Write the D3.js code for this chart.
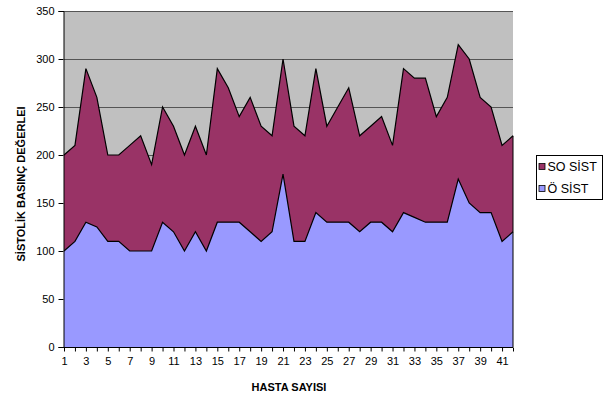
<!DOCTYPE html>
<html>
<head>
<meta charset="utf-8">
<script src="https://cdn.jsdelivr.net/npm/d3@7/dist/d3.min.js"></script>
<style>
  html, body { margin: 0; padding: 0; background: #ffffff; }
  svg { display: block; font-family: "Liberation Sans", Arial, sans-serif; }
</style>
</head>
<body>
<svg id="chart" width="607" height="398"></svg>
<script>
// Patient numbers 1..42
const patients = d3.range(1, 43);
// Systolic pressure after (SO SİST)
const soSist = [200, 210, 290, 260, 200, 200, 210, 220, 190, 250,
                230, 200, 230, 200, 290, 270, 240, 260, 230, 220,
                300, 230, 220, 290, 230, 250, 270, 220, 230, 240,
                210, 290, 280, 280, 240, 260, 315, 300, 260, 250,
                210, 220];
// Systolic pressure before (Ö SİST)
const oSist = [100, 110, 130, 125, 110, 110, 100, 100, 100, 130,
               120, 100, 120, 100, 130, 130, 130, 120, 110, 120,
               180, 110, 110, 140, 130, 130, 130, 120, 130, 130,
               120, 140, 135, 130, 130, 130, 175, 150, 140, 140,
               110, 120];
const yTicks = [0, 50, 100, 150, 200, 250, 300, 350];
const xTickLabels = patients.filter(d => d % 2 === 1);

const seriesNames = ["SO SİST", "Ö SİST"];
const seriesColors = ["#993366", "#9999FF"];

const svg = d3.select("#chart");
const plotL = 64, plotR = 513, plotT = 11, plotB = 347;

const x = d3.scaleLinear().domain([1, 42]).range([plotL, plotR]);
const y = d3.scaleLinear().domain([0, 350]).range([plotB, plotT]);

// plot background
svg.append("rect")
  .attr("x", plotL).attr("y", plotT)
  .attr("width", plotR - plotL).attr("height", plotB - plotT)
  .attr("fill", "#C0C0C0");

// horizontal gridlines
svg.append("g").selectAll("line")
  .data(yTicks.filter(t => t > 0))
  .join("line")
  .attr("x1", plotL).attr("x2", plotR)
  .attr("y1", d => Math.round(y(d)) + 0.5).attr("y2", d => Math.round(y(d)) + 0.5)
  .attr("stroke", "#555555").attr("stroke-width", 1);

const area = vals => d3.area()
  .x((d, i) => x(patients[i]))
  .y0(y(0))
  .y1(d => y(d))(vals);

const line = vals => d3.line()
  .x((d, i) => x(patients[i]))
  .y(d => y(d))(vals);

[soSist, oSist].forEach((vals, k) => {
  svg.append("path")
    .attr("d", area(vals))
    .attr("fill", seriesColors[k]);
  svg.append("path")
    .attr("d", line(vals))
    .attr("fill", "none")
    .attr("stroke", "#000")
    .attr("stroke-width", 1.2)
    .attr("stroke-linejoin", "miter");
});

// right edge of the areas
svg.append("line")
  .attr("x1", plotR).attr("x2", plotR)
  .attr("y1", y(soSist[41])).attr("y2", plotB)
  .attr("stroke", "#000").attr("stroke-width", 1);

// Y axis
const yAxis = d3.axisLeft(y).tickValues(yTicks).tickSize(5).tickPadding(4);
const gy = svg.append("g").attr("transform", `translate(${plotL - 0.5},0)`).call(yAxis);
gy.select(".domain").attr("stroke", "#000");
gy.selectAll(".tick line").attr("stroke", "#000");
gy.selectAll("text").attr("font-size", 11).attr("fill", "#000")
  .attr("font-family", "Liberation Sans, Arial, sans-serif");

// X axis
const xAxis = d3.axisBottom(x).tickValues(patients).tickSize(4).tickPadding(6)
  .tickFormat(d => xTickLabels.includes(d) ? d : "");
const gx = svg.append("g").attr("transform", `translate(0,${plotB + 0.5})`).call(xAxis);
gx.select(".domain").attr("stroke", "#000").attr("d", `M${plotL - 0.5},0H${plotR}`);
gx.selectAll(".tick line").attr("stroke", "#000");
gx.selectAll("text").attr("font-size", 11).attr("fill", "#000")
  .attr("font-family", "Liberation Sans, Arial, sans-serif");

// axis titles
svg.append("text")
  .attr("x", 289).attr("y", 391)
  .attr("text-anchor", "middle")
  .attr("font-size", 11).attr("font-weight", "bold")
  .text("HASTA SAYISI");

svg.append("text")
  .attr("transform", "translate(25,184) rotate(-90)")
  .attr("text-anchor", "middle")
  .attr("font-size", 11).attr("font-weight", "bold")
  .text("SİSTOLİK BASINÇ DEĞERLEI");

// legend
const lg = svg.append("g").attr("transform", "translate(536.5,155.5)");
lg.append("rect").attr("width", 66).attr("height", 44)
  .attr("fill", "#fff").attr("stroke", "#000").attr("stroke-width", 1);
seriesNames.forEach((name, i) => {
  const ly = 11 + i * 22;
  lg.append("rect").attr("x", 2.5).attr("y", ly - 3)
    .attr("width", 6).attr("height", 6)
    .attr("fill", seriesColors[i]).attr("stroke", "#000").attr("stroke-width", 0.8);
  lg.append("text").attr("x", 11).attr("y", ly + 4.5)
    .attr("font-size", 12.5).attr("fill", "#000")
    .text(name);
});
</script>
</body>
</html>
